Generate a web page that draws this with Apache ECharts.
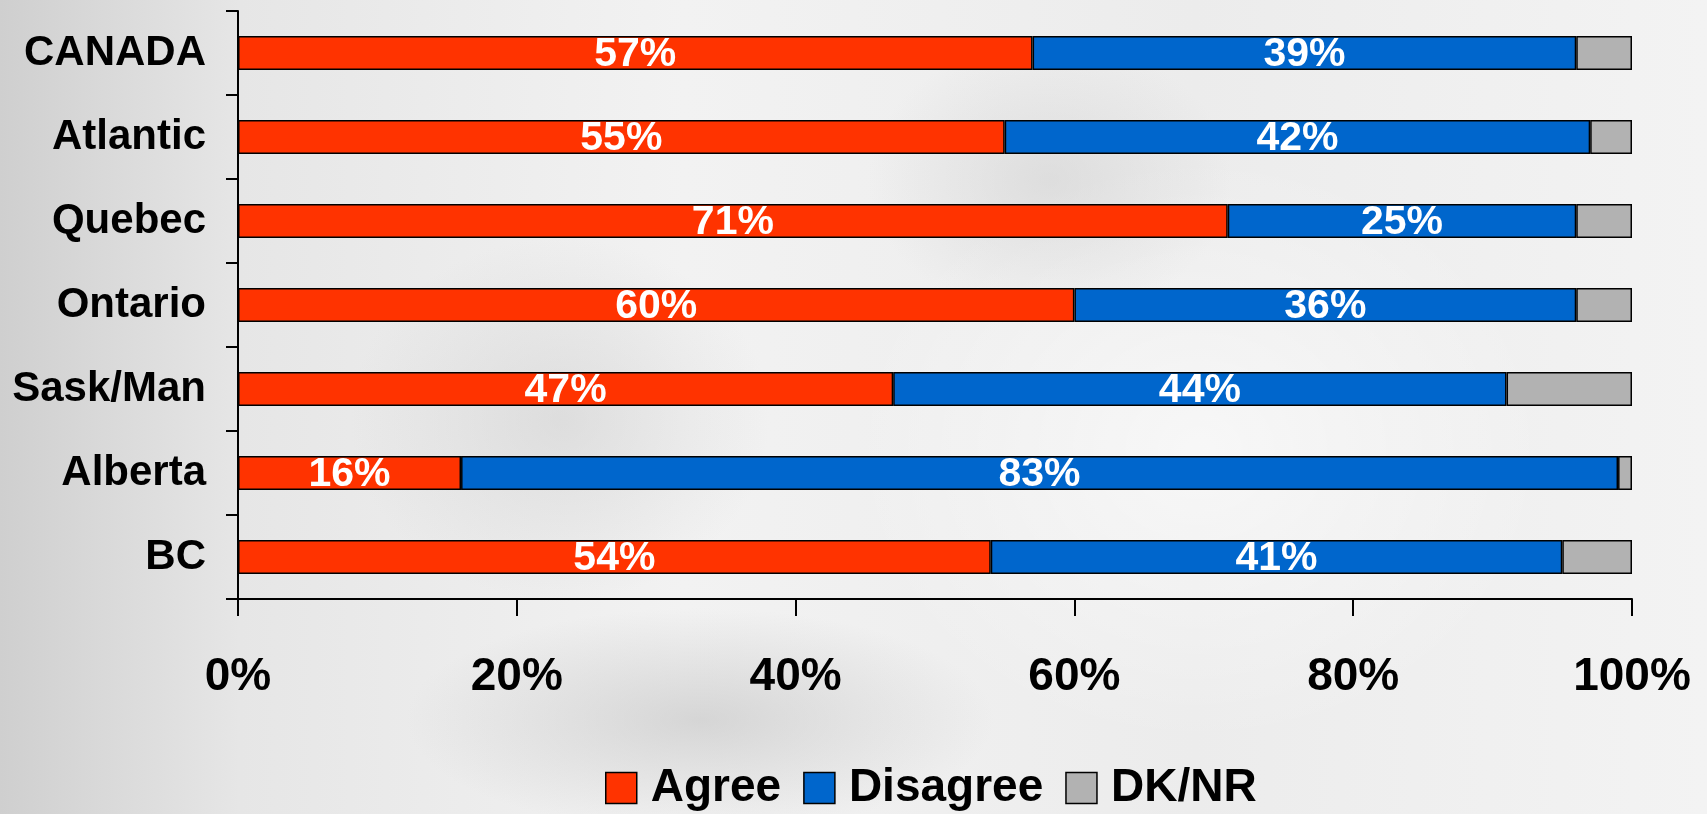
<!DOCTYPE html>
<html>
<head>
<meta charset="utf-8">
<script src="https://cdn.jsdelivr.net/npm/echarts@6/dist/echarts.min.js"></script>
<style>
  html, body { margin: 0; padding: 0; width: 1707px; height: 814px; overflow: hidden; }
  body {
    background:
      radial-gradient(ellipse 420px 160px at 700px 720px, rgba(190,190,190,0.55), rgba(190,190,190,0) 70%),
      radial-gradient(ellipse 300px 260px at 560px 420px, rgba(200,200,200,0.45), rgba(200,200,200,0) 70%),
      radial-gradient(ellipse 260px 200px at 1050px 180px, rgba(205,205,205,0.5), rgba(205,205,205,0) 70%),
      radial-gradient(ellipse 500px 420px at 1200px 450px, rgba(255,255,255,0.6), rgba(255,255,255,0) 70%),
      linear-gradient(90deg, #cfcfcf 0%, #e6e6e6 14%, #f2f2f2 40%, #ececec 70%, #f3f3f3 100%);
  }
  #main { width: 1707px; height: 814px; }
</style>
</head>
<body>
<div id="main"></div>
<script>
const categories = ['CANADA', 'Atlantic', 'Quebec', 'Ontario', 'Sask/Man', 'Alberta', 'BC'];
const agree = [57, 55, 71, 60, 47, 16, 54];
const disagree = [39, 42, 25, 36, 44, 83, 41];
const dknr = [4, 3, 4, 4, 9, 1, 5];
const seriesNames = ['Agree', 'Disagree', 'DK/NR'];
const xTicks = [0, 20, 40, 60, 80, 100];

const colors = ['#FF3300', '#0066CC', '#B2B2B2'];
const sans = "'Liberation Sans', Arial, sans-serif";

const chart = echarts.init(document.getElementById('main'), null, { renderer: 'canvas' });

function barSeries(name, data, idx, showLabel) {
  return {
    name: name,
    type: 'bar',
    stack: 'total',
    barWidth: 34,
    data: data,
    itemStyle: { color: colors[idx], borderColor: '#000', borderWidth: 1.5 },
    label: {
      show: showLabel,
      position: 'inside',
      offset: [0, 2],
      formatter: '{c}%',
      color: '#fff',
      fontFamily: sans,
      fontWeight: 'bold',
      fontSize: 41
    },
    emphasis: { disabled: true },
    animation: false
  };
}

chart.setOption({
  animation: false,
  backgroundColor: 'transparent',
  grid: { left: 238, right: 75, top: 11, bottom: 215, containLabel: false },
  legend: {
    data: seriesNames,
    left: 605,
    top: 764,
    padding: 0,
    itemWidth: 31,
    itemHeight: 31,
    itemGap: 22,
    icon: 'rect',
    itemStyle: { borderColor: '#000', borderWidth: 1.5 },
    textStyle: {
      fontFamily: sans,
      fontWeight: 'bold',
      fontSize: 46,
      lineHeight: 48,
      color: '#000',
      padding: [0, 0, 0, 9]
    }
  },
  xAxis: {
    type: 'value',
    min: xTicks[0],
    max: xTicks[xTicks.length - 1],
    interval: 20,
    splitLine: { show: false },
    axisLine: { show: true, lineStyle: { color: '#000', width: 2 } },
    axisTick: { show: true, length: 17, lineStyle: { color: '#000', width: 2 } },
    axisLabel: {
      formatter: '{value}%',
      margin: 55,
      fontFamily: sans,
      fontWeight: 'bold',
      fontSize: 46,
      color: '#000'
    }
  },
  yAxis: {
    type: 'category',
    data: categories,
    inverse: true,
    axisLine: { show: true, lineStyle: { color: '#000', width: 2 } },
    axisTick: { show: true, length: 12, inside: false, lineStyle: { color: '#000', width: 2 } },
    axisLabel: {
      margin: 32,
      fontFamily: sans,
      fontWeight: 'bold',
      fontSize: 42,
      color: '#000'
    }
  },
  series: [
    barSeries(seriesNames[0], agree, 0, true),
    barSeries(seriesNames[1], disagree, 1, true),
    barSeries(seriesNames[2], dknr, 2, false)
  ]
});
</script>
</body>
</html>
